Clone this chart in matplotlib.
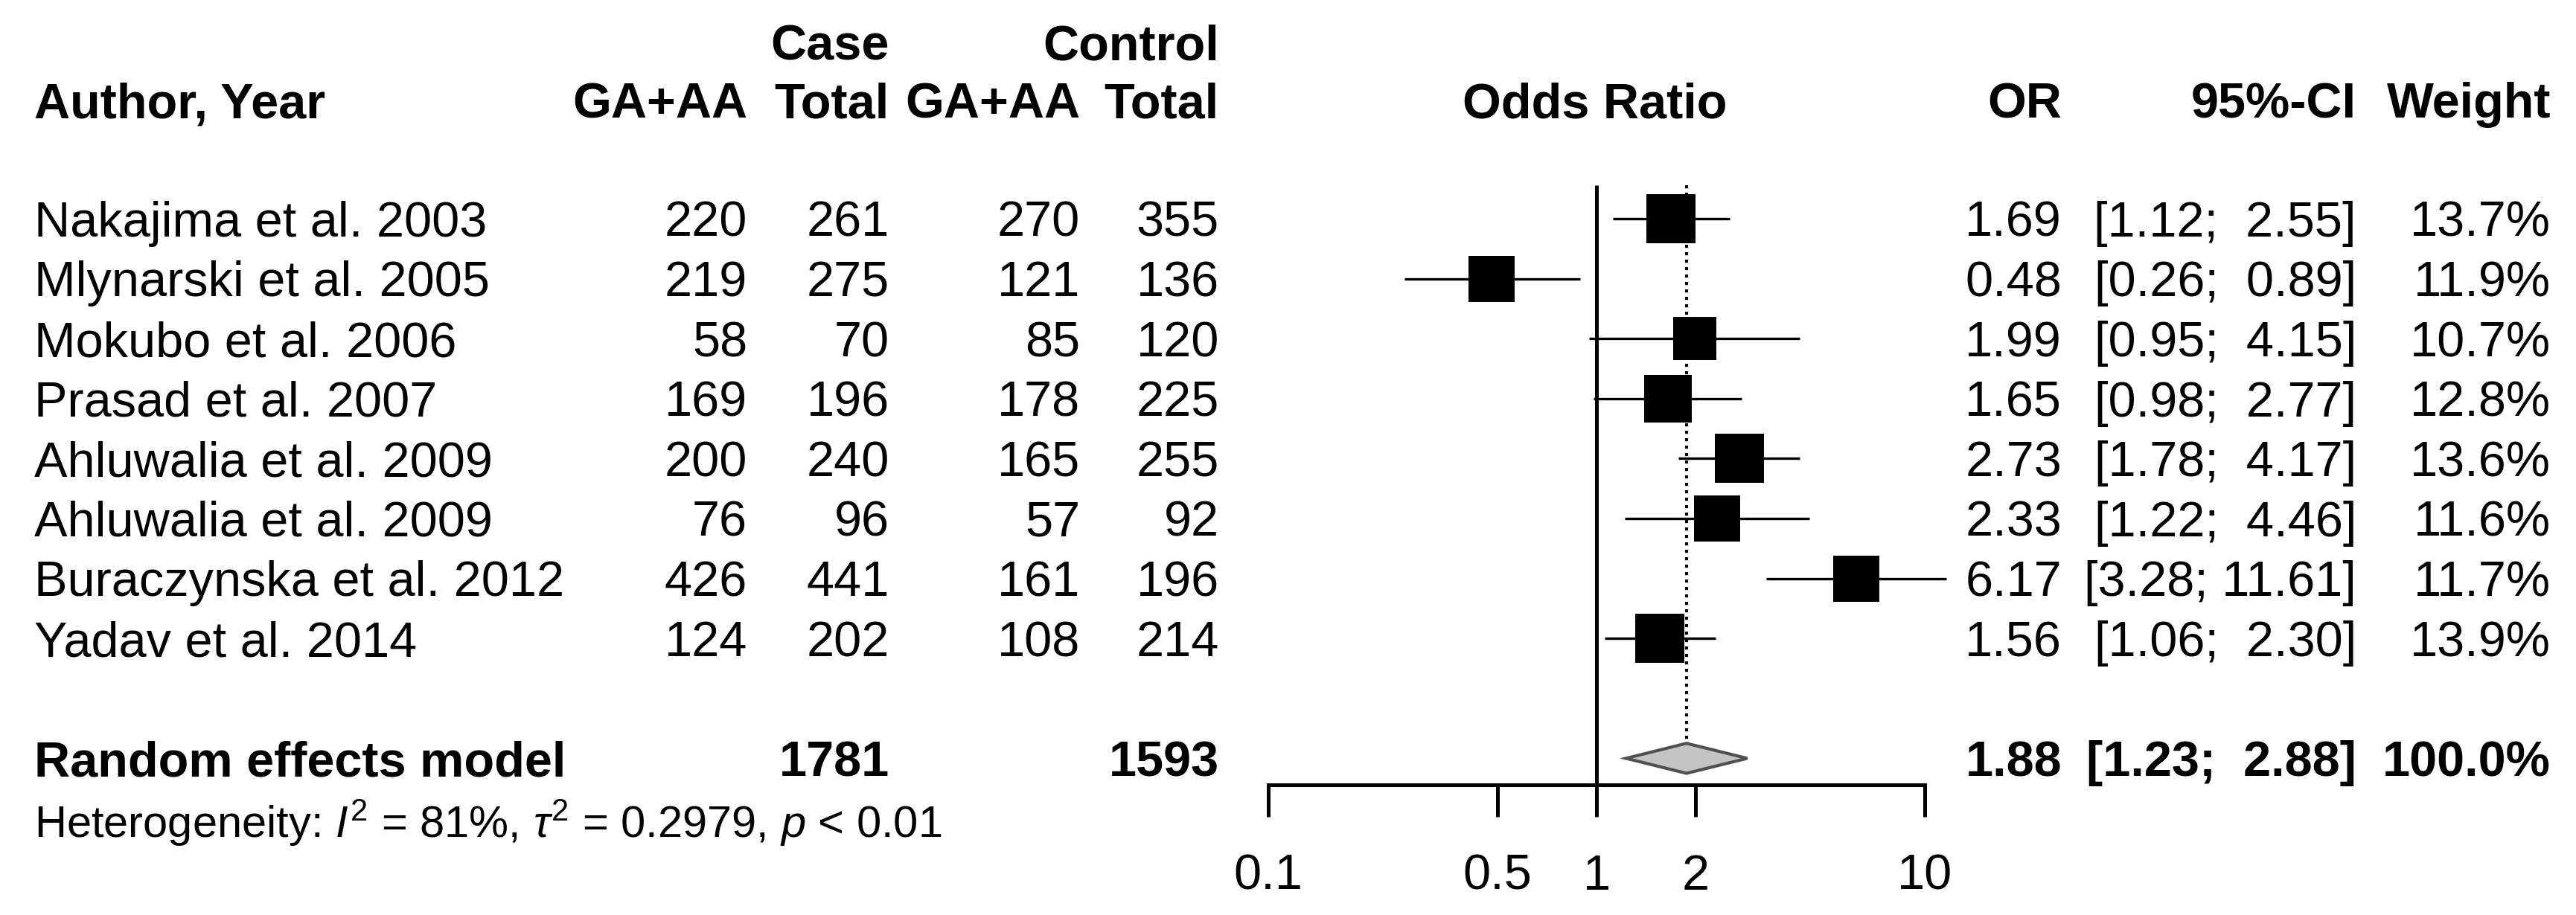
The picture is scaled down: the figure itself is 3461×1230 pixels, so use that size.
import numpy as np
import matplotlib
matplotlib.use("Agg")
import matplotlib.pyplot as plt
from matplotlib import transforms
from matplotlib.ticker import NullLocator, FixedLocator, FixedFormatter

plt.rcParams['font.family'] = ['Liberation Sans', 'DejaVu Sans']
plt.rcParams['mathtext.fontset'] = 'custom'
plt.rcParams['mathtext.rm'] = 'Liberation Sans'
plt.rcParams['mathtext.it'] = 'Liberation Sans:italic'
plt.rcParams['mathtext.bf'] = 'Liberation Sans:bold'

# ---------------- data ----------------
authors = ["Nakajima et al. 2003", "Mlynarski et al. 2005", "Mokubo et al. 2006",
           "Prasad et al. 2007", "Ahluwalia et al. 2009", "Ahluwalia et al. 2009",
           "Buraczynska et al. 2012", "Yadav et al. 2014"]
case_events = [220, 219, 58, 169, 200, 76, 426, 124]
case_total = [261, 275, 70, 196, 240, 96, 441, 202]
ctrl_events = [270, 121, 85, 178, 165, 57, 161, 108]
ctrl_total = [355, 136, 120, 225, 255, 92, 196, 214]
odds_ratio = [1.69, 0.48, 1.99, 1.65, 2.73, 2.33, 6.17, 1.56]
ci_low = [1.12, 0.26, 0.95, 0.98, 1.78, 1.22, 3.28, 1.06]
ci_high = [2.55, 0.89, 4.15, 2.77, 4.17, 4.46, 11.61, 2.30]
weights = [13.7, 11.9, 10.7, 12.8, 13.6, 11.6, 11.7, 13.9]

pooled_label = "Random effects model"
pooled_or = 1.88
pooled_low = 1.23
pooled_high = 2.88
pooled_weight = 100.0
pooled_case_total = 1781
pooled_ctrl_total = 1593
heterogeneity = r"Heterogeneity: $I^2$ = 81%, $\tau^2$ = 0.2979, $p$ < 0.01"

tick_values = [0.1, 0.5, 1, 2, 10]
tick_labels = ["0.1", "0.5", "1", "2", "10"]

# ---------------- layout ----------------
W, H = 3462, 1230
DPI = 300
fig = plt.figure(figsize=(W / DPI, H / DPI), dpi=DPI)
fig.patch.set_facecolor("white")

ROW_PX = 80.6
ROW1_PX = 294.0
AXIS_PX = 1055.0
X01_PX, X10_PX = 1704.0, 2586.0


def fx(px):
    return px / W


r_top = 1 - ROW1_PX / ROW_PX
r_axis = 1 + (AXIS_PX - ROW1_PX) / ROW_PX

ax = fig.add_axes([fx(X01_PX), (H - AXIS_PX) / H, fx(X10_PX - X01_PX), AXIS_PX / H])
ax.set_xscale("log")
ax.set_xlim(0.1, 10)
ax.set_ylim(r_axis, r_top)
ax.patch.set_alpha(0)
for s in ["top", "left", "right"]:
    ax.spines[s].set_visible(False)
ax.spines["bottom"].set_linewidth(1.2)
ax.xaxis.set_major_locator(FixedLocator(tick_values))
ax.xaxis.set_major_formatter(FixedFormatter(tick_labels))
ax.xaxis.set_minor_locator(NullLocator())
ax.tick_params(axis="x", direction="out", length=10.3, width=1.2, pad=12.0,
               labelsize=16, colors="black")
ax.set_yticks([])

n = len(authors)
rows = np.arange(1, n + 1)
pooled_row = n + 2
het_row = pooled_row + 1.06

# reference line at OR = 1
ax.plot([1, 1], [0.44, r_axis], color="black", lw=1.2, clip_on=False, zorder=2,
        solid_capstyle="butt")
# dotted line at pooled estimate
ax.plot([pooled_or, pooled_or], [0.44, pooled_row - 0.25], color="black", lw=1.0,
        linestyle=(0, (1, 1.4)), clip_on=False, zorder=1)

# study CIs and boxes
max_side_px = 67.0
for r, o, l, h, w in zip(rows, odds_ratio, ci_low, ci_high, weights):
    ax.plot([l, h], [r, r], color="black", lw=0.8, clip_on=False, zorder=2,
            solid_capstyle="butt")
    side_pt = max_side_px * np.sqrt(w / max(weights)) * 72 / DPI
    ax.plot([o], [r], marker="s", ms=side_pt, color="black", mew=0,
            linestyle="none", clip_on=False, zorder=3)

# pooled diamond
ax.fill([pooled_low, pooled_or, pooled_high, pooled_or],
        [pooled_row, pooled_row - 0.25, pooled_row, pooled_row + 0.25],
        facecolor="#c4c4c4", edgecolor="#505050", lw=1.0, clip_on=False, zorder=3)

# ---------------- text columns ----------------
trans = transforms.blended_transform_factory(fig.transFigure, ax.transData)
FS = 16
BASE = 0.296  # baseline offset (rows) so digit centers sit on row


def put(px, r, s, ha="right", bold=False, size=FS, base=BASE):
    fig.text(fx(px), r + base, s, transform=trans, ha=ha, va="baseline",
             fontsize=size, fontweight="bold" if bold else "normal", color="black")


LEFT = 46
COL_CE, COL_CT, COL_KE, COL_KT = 1004, 1195, 1451, 1638
COL_OR, COL_CI, COL_W = 2770, 3166, 3427

h1, h2 = -1.94, -0.98
put(COL_CT, h1, "Case", bold=True)
put(COL_KT, h1, "Control", bold=True)
put(LEFT, h2, "Author, Year", ha="left", bold=True)
put(COL_CE, h2, "GA+AA", bold=True)
put(COL_CT, h2, "Total", bold=True)
put(COL_KE, h2, "GA+AA", bold=True)
put(COL_KT, h2, "Total", bold=True)
put((X01_PX + X10_PX) / 2 - 2, h2, "Odds Ratio", ha="center", bold=True)
put(COL_OR, h2, "OR", bold=True)
put(COL_CI, h2, "95%-CI", bold=True)
put(COL_W, h2, "Weight", bold=True)

for r, a, ce, ct, ke, kt, o, l, h, w in zip(rows, authors, case_events, case_total,
                                            ctrl_events, ctrl_total, odds_ratio,
                                            ci_low, ci_high, weights):
    put(LEFT, r, a, ha="left")
    put(COL_CE, r, f"{ce}")
    put(COL_CT, r, f"{ct}")
    put(COL_KE, r, f"{ke}")
    put(COL_KT, r, f"{kt}")
    put(COL_OR, r, f"{o:.2f}")
    put(COL_CI, r, f"[{l:.2f}; {h:5.2f}]")
    put(COL_W, r, f"{w:.1f}%")

put(LEFT, pooled_row, pooled_label, ha="left", bold=True)
put(COL_CT, pooled_row, f"{pooled_case_total}", bold=True)
put(COL_KT, pooled_row, f"{pooled_ctrl_total}", bold=True)
put(COL_OR, pooled_row, f"{pooled_or:.2f}", bold=True)
put(COL_CI, pooled_row, f"[{pooled_low:.2f}; {pooled_high:5.2f}]", bold=True)
put(COL_W, pooled_row, f"{pooled_weight:.1f}%", bold=True)

put(LEFT, het_row, heterogeneity, ha="left", size=14.3, base=0.26)

fig.savefig("out.png", dpi=DPI, facecolor="white")
